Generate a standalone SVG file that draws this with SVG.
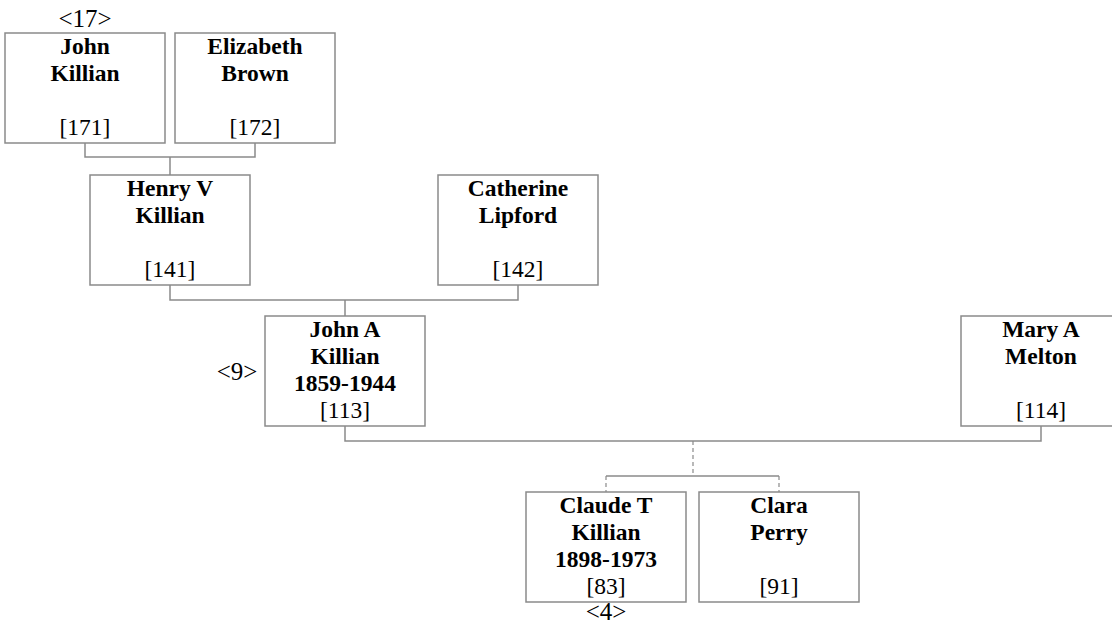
<svg xmlns="http://www.w3.org/2000/svg" width="1112" height="624" viewBox="0 0 1112 624">
<style>
.box{fill:#fff;stroke:#8a8a8a;stroke-width:1.5}
.ln{fill:none;stroke:#8a8a8a;stroke-width:1.5}
.dash{fill:none;stroke:#8a8a8a;stroke-width:1.2;stroke-dasharray:4,3}
.nm{font-family:"Liberation Serif","Times New Roman",serif;font-size:23.5px;font-weight:bold;text-anchor:middle;fill:#000}
.id{font-family:"Liberation Serif","Times New Roman",serif;font-size:23.5px;text-anchor:middle;fill:#000}
.lb{font-family:"Liberation Serif","Times New Roman",serif;font-size:25px;text-anchor:middle;fill:#000}
</style>
<rect width="1112" height="624" fill="#fff"/>
<g id="connectors">
<path class="ln" d="M85,143 V157 H255 V143 M170,157 V175"/>
<path class="ln" d="M170,285 V300 H518 V285 M345,300 V316"/>
<path class="ln" d="M345,426 V441 H1041 V426"/>
<path class="dash" d="M693,441 V476"/>
<path class="ln" d="M606,476 H779"/>
<path class="dash" d="M606,476 V492 M779,476 V492"/>
</g>
<g id="p171">
<rect class="box" x="5" y="33" width="160" height="110"/>
<text class="nm" x="85" y="54">John</text>
<text class="nm" x="85" y="81">Killian</text>
<text class="id" x="85" y="135">[171]</text>
<text class="lb" x="85" y="27">&lt;17&gt;</text>
</g>
<g id="p172">
<rect class="box" x="175" y="33" width="160" height="110"/>
<text class="nm" x="255" y="54">Elizabeth</text>
<text class="nm" x="255" y="81">Brown</text>
<text class="id" x="255" y="135">[172]</text>
</g>
<g id="p141">
<rect class="box" x="90" y="175" width="160" height="110"/>
<text class="nm" x="170" y="196">Henry V</text>
<text class="nm" x="170" y="223">Killian</text>
<text class="id" x="170" y="277">[141]</text>
</g>
<g id="p142">
<rect class="box" x="438" y="175" width="160" height="110"/>
<text class="nm" x="518" y="196">Catherine</text>
<text class="nm" x="518" y="223">Lipford</text>
<text class="id" x="518" y="277">[142]</text>
</g>
<g id="p113">
<rect class="box" x="265" y="316" width="160" height="110"/>
<text class="nm" x="345" y="337">John A</text>
<text class="nm" x="345" y="364">Killian</text>
<text class="nm" x="345" y="391">1859-1944</text>
<text class="id" x="345" y="418">[113]</text>
<text class="lb" x="237" y="380">&lt;9&gt;</text>
</g>
<g id="p114">
<rect class="box" x="961" y="316" width="160" height="110"/>
<text class="nm" x="1041" y="337">Mary A</text>
<text class="nm" x="1041" y="364">Melton</text>
<text class="id" x="1041" y="418">[114]</text>
</g>
<g id="p83">
<rect class="box" x="526" y="492" width="160" height="110"/>
<text class="nm" x="606" y="513">Claude T</text>
<text class="nm" x="606" y="540">Killian</text>
<text class="nm" x="606" y="567">1898-1973</text>
<text class="id" x="606" y="594">[83]</text>
<text class="lb" x="606" y="620">&lt;4&gt;</text>
</g>
<g id="p91">
<rect class="box" x="699" y="492" width="160" height="110"/>
<text class="nm" x="779" y="513">Clara</text>
<text class="nm" x="779" y="540">Perry</text>
<text class="id" x="779" y="594">[91]</text>
</g>
</svg>
